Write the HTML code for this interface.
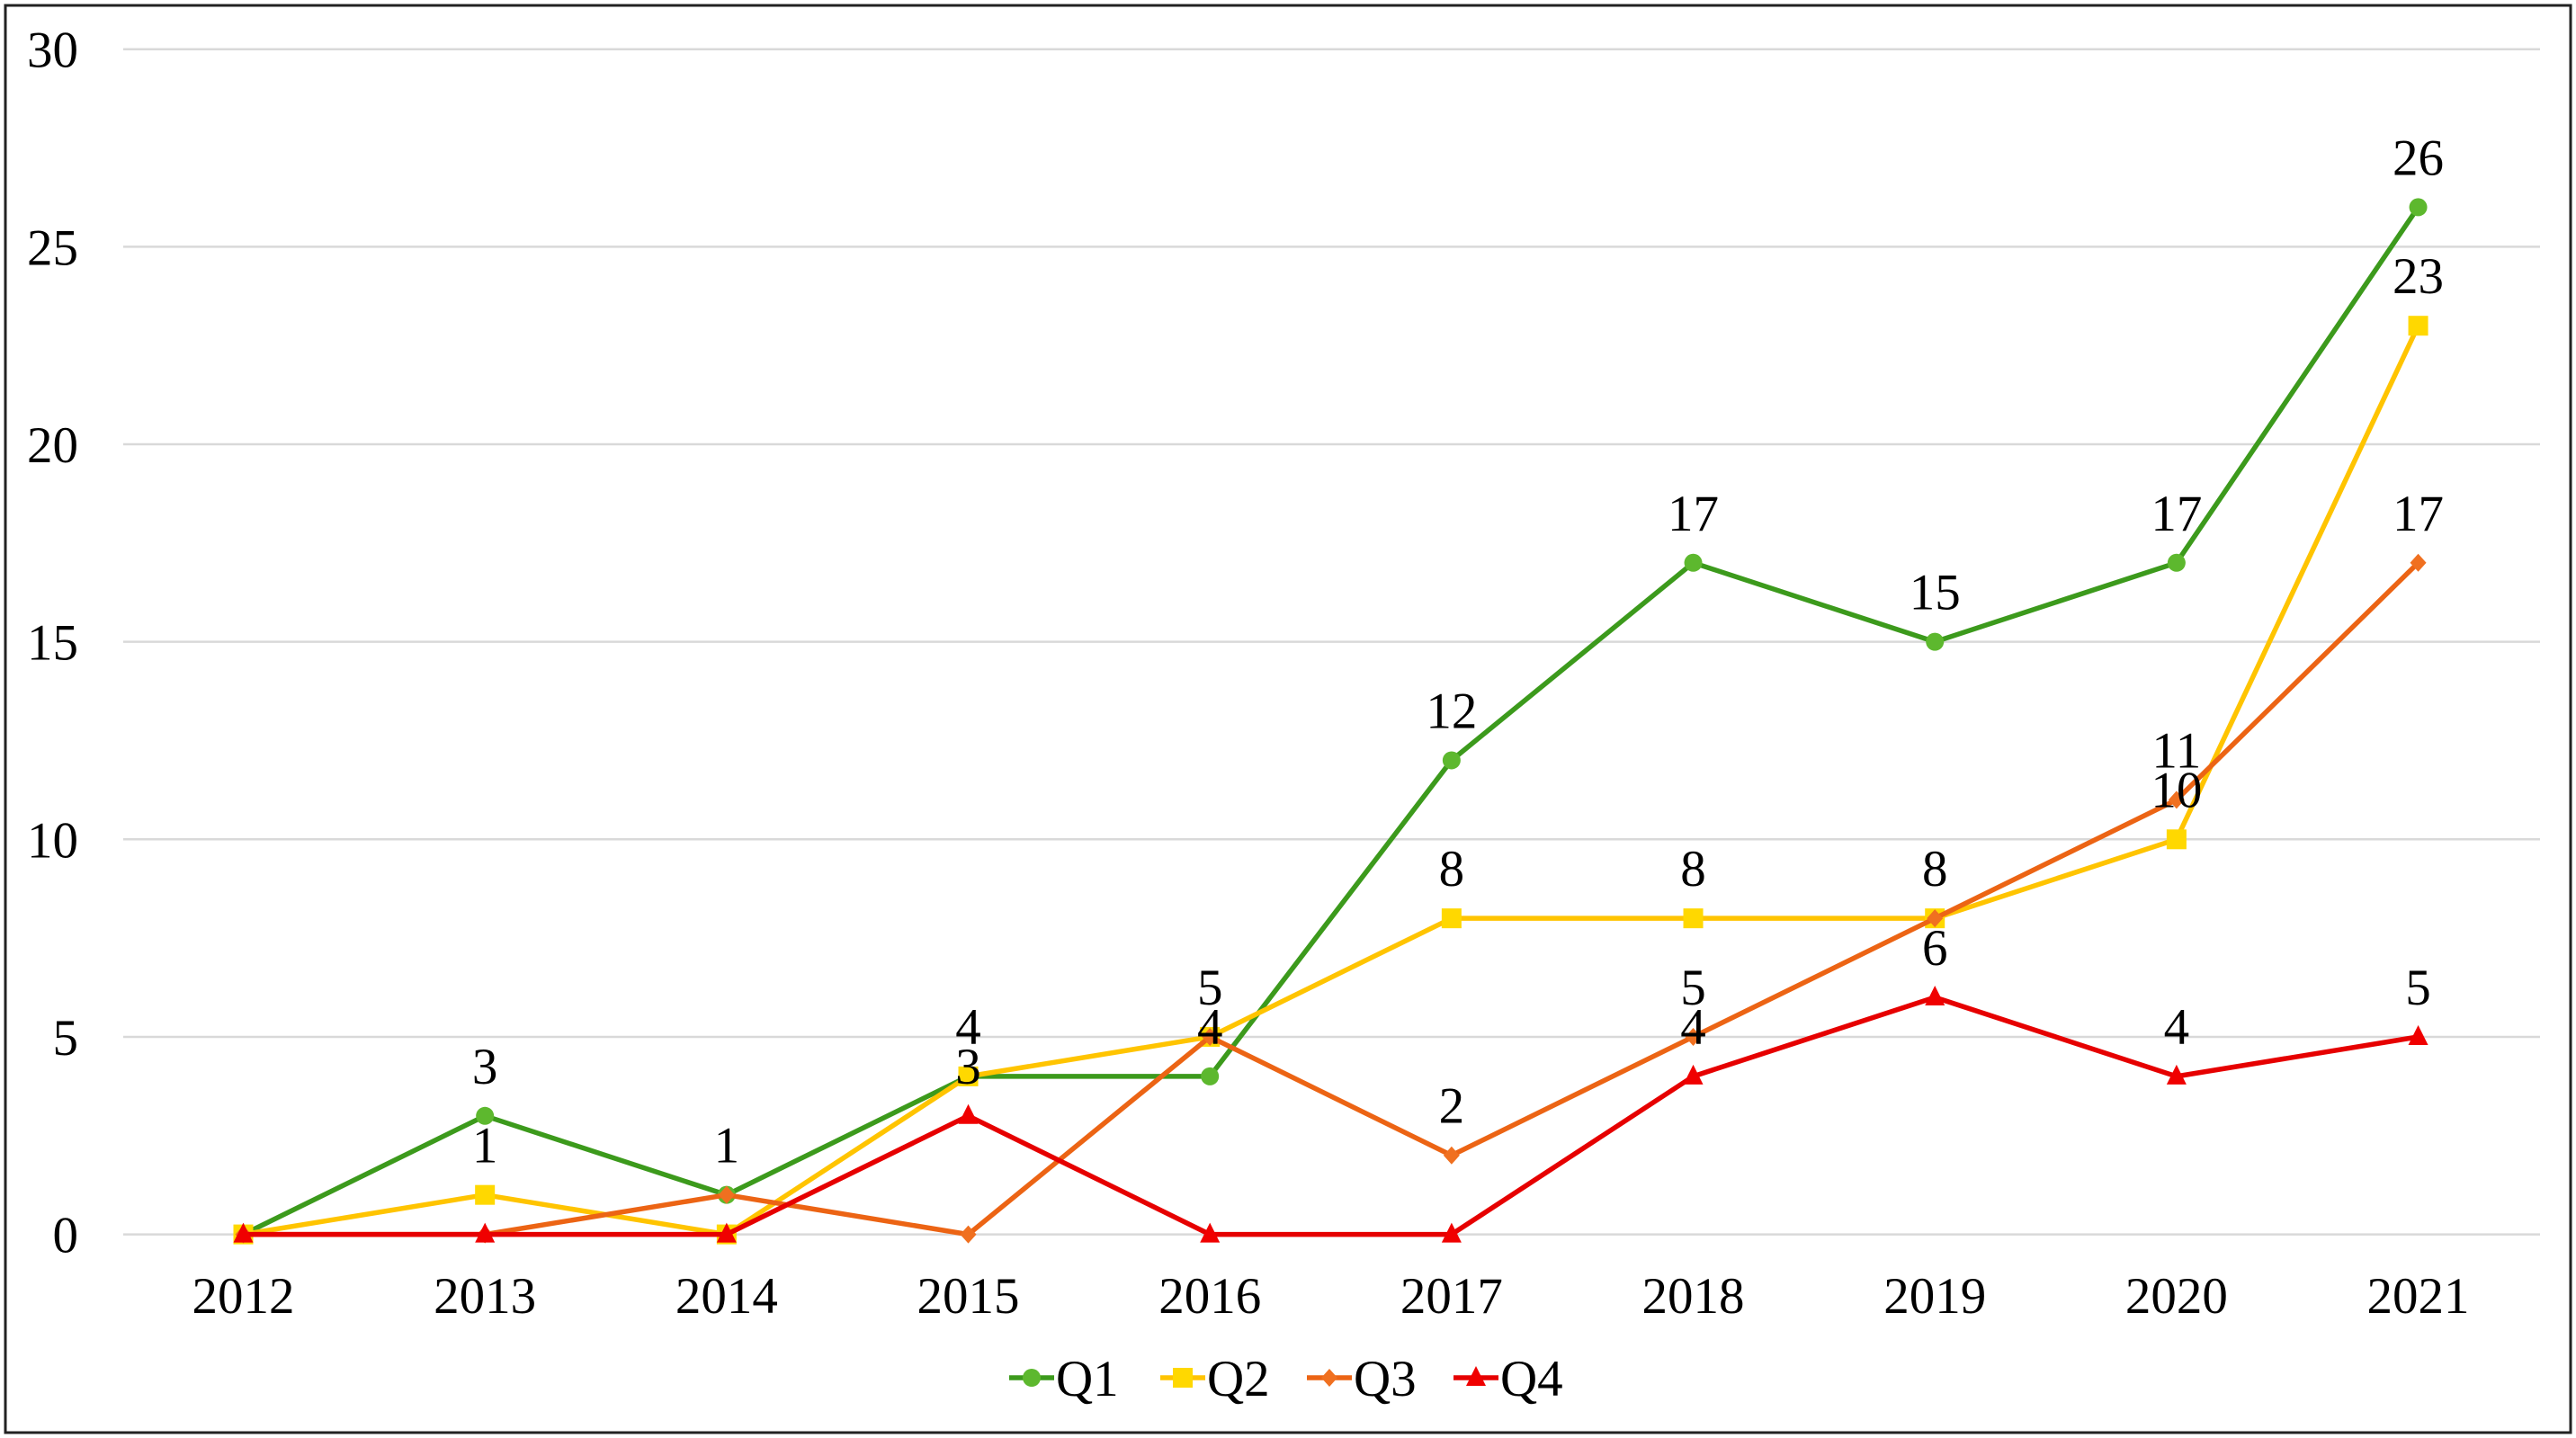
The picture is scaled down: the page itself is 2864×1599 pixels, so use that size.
<!DOCTYPE html>
<html><head><meta charset="utf-8"><style>
html,body{margin:0;padding:0;background:#fff;}
svg{display:block;}
text{font-family:"Liberation Serif",serif;fill:#000;}
</style></head><body>
<svg id="chart" width="2864" height="1599" viewBox="0 0 2864 1599">
<rect x="6" y="6" width="2852" height="1587" fill="#fff" stroke="#222" stroke-width="3"/>
<g id="grid"></g>
<g id="ylab"></g>
<g id="xlab"></g>
<g id="series"></g>
<g id="labels"></g>
<g id="legend"></g>
</svg>
<script>
const categories = ["2012","2013","2014","2015","2016","2017","2018","2019","2020","2021"];
const q1 = [0,3,1,4,4,12,17,15,17,26];
const q2 = [0,1,0,4,5,8,8,8,10,23];
const q3 = [0,0,1,0,5,2,5,8,11,17];
const q4 = [0,0,0,3,0,0,4,6,4,5];
const q1Labels = [null,3,1,4,4,12,17,15,17,26];
const q2Labels = [null,1,null,null,5,8,8,8,10,23];
const q3Labels = [null,null,null,null,null,2,5,null,11,17];
const q4Labels = [null,null,null,3,null,null,4,6,4,5];
const yTicks = [0,5,10,15,20,25,30];
const seriesNames = ["Q1","Q2","Q3","Q4"];

const NS="http://www.w3.org/2000/svg";
const X0=270.5, XSTEP=147.0, Y0=1372.6, YUNIT=43.93;
const FS=57;
function xPos(i){return X0+i*XSTEP*1.8277;}
function yPos(v){return Y0-v*YUNIT;}
function mk(tag,attrs,parent){const e=document.createElementNS(NS,tag);for(const k in attrs)e.setAttribute(k,attrs[k]);parent.appendChild(e);return e;}

const grid=document.getElementById('grid'), ylab=document.getElementById('ylab'), xlab=document.getElementById('xlab');
yTicks.forEach(t=>{
  const l=mk('line',{x1:137,x2:2824,y1:yPos(t),y2:yPos(t),stroke:'#d9d9d9','stroke-width':2.5},grid);
  
  
  const tx=mk('text',{x:87,y:yPos(t)+20,'text-anchor':'end','font-size':FS},ylab);
  tx.textContent=t;
  
  
});
categories.forEach((c,i)=>{
  const tx=mk('text',{x:xPos(i),y:1460,'text-anchor':'middle','font-size':FS},xlab);
  tx.textContent=c;
  
  
});

const colors=[{line:'#3c9a1c',mark:'#5db82e'},{line:'#ffc400',mark:'#ffd800'},{line:'#ec6414',mark:'#f07020'},{line:'#e60000',mark:'#f00000'}];
const shapes=['circle','square','diamond','triangle'];
function marker(shape,x,y,color,parent,size){
  let e;
  const s=size||1;
  if(shape==='circle') e=mk('circle',{cx:x,cy:y,r:10*s,fill:color},parent);
  else if(shape==='square') e=mk('rect',{x:x-11*s,y:y-11*s,width:22*s,height:22*s,fill:color},parent);
  else if(shape==='diamond') e=mk('polygon',{points:`${x},${y-10*s} ${x+9*s},${y} ${x},${y+10*s} ${x-9*s},${y}`,fill:color},parent);
  else e=mk('polygon',{points:`${x},${y-13*s} ${x+11*s},${y+9*s} ${x-11*s},${y+9*s}`,fill:color},parent);
  return e;
}
const allData=[q1,q2,q3,q4], allLabels=[q1Labels,q2Labels,q3Labels,q4Labels];
const sg=document.getElementById('series'), lg=document.getElementById('labels');
allData.forEach((d,si)=>{
  const g=mk('g',{},sg);
  
  
  const pts=d.map((v,i)=>xPos(i)+','+yPos(v)).join(' ');
  const pl=mk('polyline',{points:pts,fill:'none',stroke:colors[si].line,'stroke-width':5.5,'stroke-linejoin':'round'},g);
  
  
  d.forEach((v,i)=>{
    const m=marker(shapes[si],xPos(i),yPos(v),colors[si].mark,g);
    
    
  });
});
allData.forEach((d,si)=>{
  d.forEach((v,i)=>{
    const lb=allLabels[si][i];
    if(lb===null) return;
    const t=mk('text',{x:xPos(i),y:yPos(v)-36,'text-anchor':'middle','font-size':FS},lg);
    t.textContent=lb;
    
    
  });
});
const legend=document.getElementById('legend');
const legX=[1122,1290,1453,1616];
seriesNames.forEach((n,si)=>{
  const g=mk('g',{},legend);
  
  
  mk('line',{x1:legX[si],x2:legX[si]+50,y1:1532,y2:1532,stroke:colors[si].line,'stroke-width':5.5},g);
  marker(shapes[si],legX[si]+25,1532,colors[si].mark,g,1);
  const t=mk('text',{x:legX[si]+52,y:1552,'font-size':FS},g);
  t.textContent=n;
});
</script>
</body></html>
